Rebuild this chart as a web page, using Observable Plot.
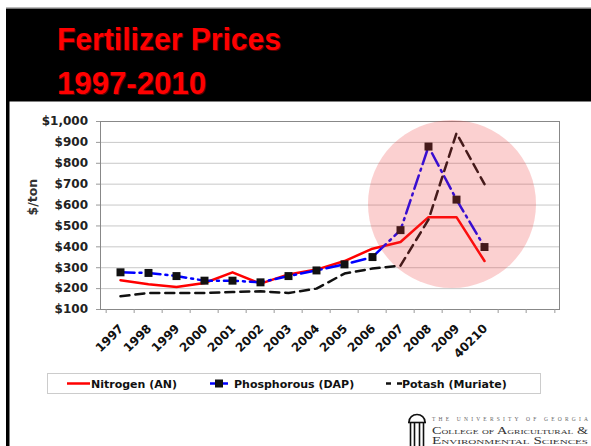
<!DOCTYPE html>
<html>
<head>
<meta charset="utf-8">
<script src="https://cdn.jsdelivr.net/npm/d3@7"></script>
<script src="https://cdn.jsdelivr.net/npm/@observablehq/plot@0.6"></script>
<style>
  html, body { margin: 0; padding: 0; background: #fff; }
  #page { position: relative; width: 591px; height: 446px; overflow: hidden; background: #fff; }
  #deco { position: absolute; left: 0; top: 0; }
  #chart { position: absolute; left: 0; top: 105px; }
</style>
</head>
<body>
<div id="page">
  <svg id="deco" width="591" height="446" xmlns="http://www.w3.org/2000/svg">
    <rect x="6" y="7" width="585" height="1.2" fill="#bbb"/>
    <rect x="6" y="8.5" width="585" height="93" fill="#000"/>
    <rect x="6" y="100" width="3.5" height="346" fill="#000"/>
    <g font-family="'Liberation Sans', Arial, sans-serif" font-weight="bold" font-size="32">
      <text x="58" y="51" fill="#5a0000" textLength="224" lengthAdjust="spacingAndGlyphs">Fertilizer Prices</text>
      <text x="57" y="50" fill="#ff0000" textLength="224" lengthAdjust="spacingAndGlyphs">Fertilizer Prices</text>
      <text x="58" y="95" fill="#5a0000" textLength="149" lengthAdjust="spacingAndGlyphs">1997-2010</text>
      <text x="57" y="94" fill="#ff0000" textLength="149" lengthAdjust="spacingAndGlyphs">1997-2010</text>
    </g>
    <!-- legend -->
    <rect x="47.5" y="373.5" width="493" height="20" fill="none" stroke="#ccc" stroke-width="1"/>
    <g font-family="'DejaVu Sans', Verdana, sans-serif" font-weight="bold" font-size="11" fill="#111">
      <line x1="67" y1="383.5" x2="90" y2="383.5" stroke="#ff0000" stroke-width="2.5"/>
      <text x="91" y="387.5" id="lg1"></text>
      <line x1="210" y1="383.5" x2="228" y2="383.5" stroke="#0000ff" stroke-width="2.5"/>
      <rect x="215" y="379.5" width="8" height="8" fill="#111"/>
      <text x="234" y="387.5" id="lg2"></text>
      <line x1="386" y1="383.5" x2="402" y2="383.5" stroke="#111" stroke-width="2.5" stroke-dasharray="5,6"/>
      <text x="402" y="387.5" id="lg3"></text>
    </g>
    <!-- logo -->
    <g fill="none" stroke="#111" stroke-width="1.6">
      <path d="M409,422 A8,7.5 0 0 1 425,422"/>
      <line x1="408" y1="422.5" x2="426" y2="422.5"/>
      <line x1="410.5" y1="423" x2="410.5" y2="446"/>
      <line x1="414.5" y1="423" x2="414.5" y2="446"/>
      <line x1="419.5" y1="423" x2="419.5" y2="446"/>
      <line x1="423.5" y1="423" x2="423.5" y2="446"/>
    </g>
    <g font-family="'Liberation Serif', 'DejaVu Serif', serif">
      <text x="432" y="421" font-size="5.5" fill="#666" textLength="156" lengthAdjust="spacing">THE UNIVERSITY OF GEORGIA</text>
      <text x="432" y="433.5" font-size="10.5" fill="#333" style="font-variant: small-caps" textLength="156" lengthAdjust="spacingAndGlyphs">College of Agricultural &amp;</text>
      <text x="432" y="444" font-size="9.5" fill="#333" style="font-variant: small-caps" textLength="156" lengthAdjust="spacingAndGlyphs">Environmental Sciences</text>
    </g>
  </svg>
  <div id="chart"></div>
</div>
<script>
// ---- data ----
const years = ["1997","1998","1999","2000","2001","2002","2003","2004","2005","2006","2007","2008","2009","40210"];
const emptySlots = ["", " "];
const nitrogen    = [240, 221, 208, 227, 278, 224, 268, 291, 332, 391, 423, 542, 542, 332];
const phosphorous = [278, 275, 260, 238, 238, 230, 260, 287, 316, 351, 480, 880, 626, 399];
const potash      = [163, 179, 179, 179, 184, 187, 179, 200, 272, 296, 310, 530, 944, 700];
const yTicks = [100, 200, 300, 400, 500, 600, 700, 800, 900, 1000];
const seriesNames = ["Nitrogen (AN)", "Phosphorous (DAP)", "Potash (Muriate)"];
const highlight = [{year: "2009", price: 605}];

document.getElementById("lg1").textContent = seriesNames[0];
document.getElementById("lg2").textContent = seriesNames[1];
document.getElementById("lg3").textContent = seriesNames[2];

const rows = years.map((y, i) => ({year: y, n: nitrogen[i], p: phosphorous[i], k: potash[i]}));
const xDomain = years.concat(emptySlots);

const W = 591, mL = 100, mR = 32;
const bw = (W - mL - mR) / xDomain.length;

const chart = Plot.plot({
  width: W,
  height: 265,
  marginTop: 16,
  marginBottom: 61,
  marginLeft: mL,
  marginRight: mR,
  style: {fontFamily: "'DejaVu Sans', Verdana, sans-serif", fontSize: "11px", background: "transparent", overflow: "visible"},
  x: {domain: xDomain, type: "band", padding: 0, label: null},
  y: {domain: [100, 1000], label: null},
  marks: [
    Plot.gridY(yTicks, {stroke: "#c8c8c8", strokeOpacity: 1}),
    Plot.frame({stroke: "#888"}),
    Plot.axisY(yTicks, {tickFormat: d3.format("$,"), tickSize: 4, tickPadding: 8.5, fontSize: 12, fontWeight: "bold", stroke: "#999", fill: "#222", label: null}),
    Plot.text(["$/ton"], {text: d => d, frameAnchor: "left", dx: -68, rotate: -90, fontSize: 12.5, fontWeight: "bold", fill: "#333"}),
    Plot.axisX(xDomain, {tickSize: 4, dx: -bw / 2, tickFormat: () => "", stroke: "#999", label: null}),
    Plot.axisX(xDomain.slice(-1), {tickSize: 4, dx: bw / 2, tickFormat: () => "", stroke: "#999", label: null}),
    Plot.axisX(xDomain, {tickSize: 0, tickPadding: 12, dy: 5, dx: 1, tickRotate: -45, fontSize: 12, fontWeight: "bold", fill: "#111", tickFormat: d => d.trim(), label: null}),
    Plot.line(rows, {x: "year", y: "n", stroke: "#ff0000", strokeWidth: 2.5}),
    Plot.line(rows, {x: "year", y: "p", stroke: "#0000ff", strokeWidth: 2.5, strokeDasharray: "14,5,2,5"}),
    Plot.line(rows, {x: "year", y: "k", stroke: "#111", strokeWidth: 2.5, strokeDasharray: "9,6"}),
    Plot.dot(rows, {x: "year", y: "p", symbol: "square", r: 4.5, fill: "#111"}),
    Plot.dot(highlight, {x: "year", y: "price", r: 84, dx: -4.5, fill: "#f03c3c", fillOpacity: 0.24})
  ]
});
document.getElementById("chart").appendChild(chart);
</script>
</body>
</html>
